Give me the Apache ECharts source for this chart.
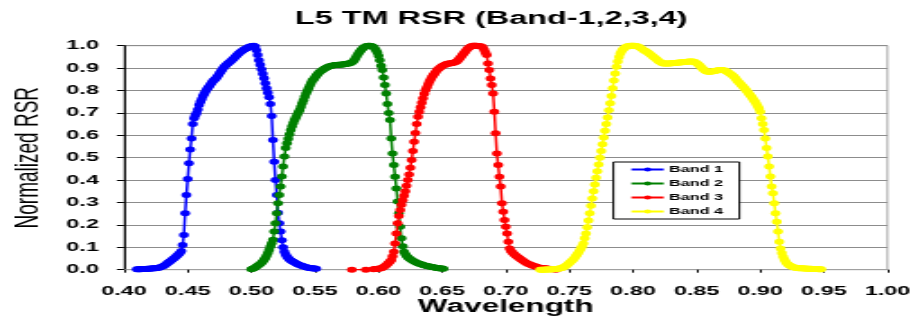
<!DOCTYPE html>
<html>
<head>
<meta charset="utf-8">
<script src="https://cdn.jsdelivr.net/npm/echarts@6/dist/echarts.min.js"></script>
<style>
  html, body { margin: 0; padding: 0; background: #fff; overflow: hidden; }
  #wrap { width: 913px; height: 320px; overflow: hidden; }
  /* the figure is laid out narrow and then widened, like the original exported plot */
  #chart { width: 507px; height: 320px; transform: scaleX(1.8008); transform-origin: 0 0; }
</style>
</head>
<body>
<div id="wrap"><div id="chart"></div></div>
<script>
// Landsat 5 TM relative spectral response, 1 nm steps (wavelength in micrometres)
const bandNames = ['Band 1', 'Band 2', 'Band 3', 'Band 4'];
const bandColors = ['#0000ff', '#008000', '#ff0000', '#ffff00'];

const xTicks = [0.40, 0.45, 0.50, 0.55, 0.60, 0.65, 0.70, 0.75, 0.80, 0.85, 0.90, 0.95, 1.00];
const yTicks = [0.0, 0.1, 0.2, 0.3, 0.4, 0.5, 0.6, 0.7, 0.8, 0.9, 1.0];

const band1StartNm = 410;
const band1 = [
  0.002,0.002,0.002,0.002,0.003,0.003,0.003,0.003,0.004,0.004,
  0.004,0.005,0.005,0.006,0.006,0.007,0.008,0.009,0.010,0.012,
  0.014,0.017,0.020,0.024,0.029,0.033,0.037,0.041,0.045,0.050,
  0.055,0.060,0.065,0.070,0.076,0.083,0.110,0.155,0.252,0.334,
  0.405,0.475,0.537,0.586,0.650,0.676,0.690,0.700,0.715,0.735,
  0.750,0.762,0.775,0.785,0.795,0.805,0.812,0.820,0.828,0.836,
  0.843,0.848,0.853,0.860,0.868,0.877,0.885,0.893,0.900,0.907,
  0.913,0.918,0.923,0.927,0.932,0.937,0.942,0.948,0.954,0.960,
  0.965,0.970,0.974,0.978,0.982,0.985,0.988,0.991,0.994,0.996,
  0.998,0.999,1.000,0.995,0.980,0.958,0.935,0.915,0.895,0.875,
  0.855,0.832,0.810,0.790,0.770,0.740,0.686,0.579,0.482,0.400,
  0.333,0.254,0.207,0.170,0.132,0.100,0.080,0.068,0.058,0.052,
  0.046,0.042,0.038,0.035,0.032,0.029,0.026,0.023,0.021,0.019,
  0.017,0.015,0.013,0.011,0.010,0.009,0.008,0.007,0.006,0.005,
  0.005,0.004
];

const band2StartNm = 500;
const band2 = [
  0.002,0.004,0.007,0.010,0.014,0.018,0.022,0.026,0.031,0.037,
  0.044,0.052,0.062,0.074,0.088,0.104,0.118,0.134,0.170,0.207,
  0.252,0.297,0.334,0.371,0.416,0.461,0.505,0.543,0.565,0.585,
  0.605,0.624,0.640,0.655,0.668,0.680,0.692,0.703,0.713,0.728,
  0.743,0.757,0.772,0.787,0.798,0.810,0.822,0.834,0.845,0.850,
  0.858,0.866,0.873,0.879,0.884,0.888,0.892,0.896,0.899,0.902,
  0.905,0.907,0.909,0.911,0.912,0.913,0.914,0.914,0.915,0.915,
  0.915,0.916,0.916,0.917,0.918,0.919,0.920,0.921,0.923,0.926,
  0.930,0.936,0.945,0.955,0.964,0.972,0.979,0.985,0.990,0.994,
  0.997,0.999,1.000,1.000,0.999,0.998,0.994,0.988,0.980,0.970,
  0.955,0.935,0.910,0.891,0.858,0.824,0.787,0.740,0.700,0.668,
  0.586,0.519,0.467,0.415,0.363,0.304,0.252,0.192,0.140,0.105,
  0.080,0.070,0.062,0.056,0.051,0.047,0.043,0.040,0.037,0.034,
  0.031,0.029,0.027,0.025,0.023,0.021,0.020,0.018,0.017,0.015,
  0.014,0.013,0.012,0.011,0.010,0.009,0.008,0.007,0.006,0.005,
  0.005,0.004
];

// band 3 has two isolated samples before its continuous record
const band3Lead = [[0.579, 0.000], [0.590, 0.000]];
const band3StartNm = 596;
const band3 = [
  0.002,0.003,0.003,0.004,0.004,0.005,0.007,0.009,0.012,0.016,
  0.020,0.025,0.031,0.037,0.043,0.060,0.080,0.117,0.162,0.207,
  0.240,0.266,0.290,0.310,0.330,0.350,0.375,0.400,0.425,0.455,
  0.490,0.530,0.571,0.610,0.650,0.683,0.705,0.725,0.745,0.765,
  0.785,0.802,0.815,0.828,0.840,0.850,0.860,0.868,0.876,0.884,
  0.891,0.896,0.901,0.905,0.909,0.912,0.915,0.917,0.919,0.920,
  0.921,0.922,0.923,0.924,0.926,0.928,0.932,0.938,0.945,0.952,
  0.960,0.966,0.973,0.980,0.986,0.991,0.995,0.998,1.000,1.000,
  1.000,1.000,0.999,0.998,0.997,0.996,0.992,0.982,0.970,0.958,
  0.921,0.891,0.854,0.824,0.787,0.705,0.609,0.519,0.467,0.415,
  0.371,0.297,0.259,0.222,0.192,0.162,0.125,0.095,0.085,0.078,
  0.072,0.067,0.062,0.058,0.054,0.050,0.046,0.042,0.038,0.034,
  0.031,0.028,0.025,0.023,0.021,0.019,0.017,0.015,0.013,0.011,
  0.010,0.009,0.008,0.007,0.006,0.006,0.005,0.004,0.004,0.003,
  0.003,0.002,0.002,0.001,0.001
];

const band4StartNm = 727;
const band4 = [
  0.000,0.000,0.000,0.000,0.001,0.001,0.001,0.001,0.001,0.002,
  0.002,0.002,0.003,0.003,0.004,0.005,0.006,0.008,0.010,0.013,
  0.016,0.020,0.025,0.030,0.035,0.040,0.046,0.052,0.060,0.068,
  0.076,0.085,0.095,0.105,0.117,0.140,0.162,0.190,0.220,0.252,
  0.285,0.318,0.350,0.380,0.410,0.440,0.470,0.500,0.530,0.560,
  0.590,0.620,0.650,0.680,0.712,0.743,0.775,0.810,0.845,0.876,
  0.906,0.930,0.950,0.965,0.975,0.983,0.989,0.993,0.996,0.998,
  0.999,1.000,1.000,1.000,1.000,0.999,0.998,0.996,0.993,0.990,
  0.986,0.982,0.978,0.976,0.972,0.968,0.964,0.960,0.955,0.950,
  0.946,0.942,0.937,0.932,0.928,0.925,0.922,0.921,0.920,0.920,
  0.921,0.921,0.921,0.922,0.922,0.923,0.923,0.924,0.924,0.925,
  0.925,0.926,0.926,0.927,0.927,0.928,0.928,0.929,0.929,0.929,
  0.929,0.928,0.926,0.922,0.918,0.913,0.908,0.902,0.896,0.891,
  0.887,0.885,0.884,0.884,0.884,0.885,0.886,0.887,0.888,0.889,
  0.890,0.891,0.891,0.891,0.890,0.889,0.887,0.884,0.880,0.876,
  0.872,0.868,0.864,0.858,0.851,0.844,0.838,0.832,0.826,0.820,
  0.814,0.808,0.801,0.794,0.787,0.780,0.773,0.765,0.757,0.750,
  0.740,0.730,0.720,0.705,0.676,0.650,0.624,0.586,0.543,0.505,
  0.461,0.416,0.371,0.341,0.297,0.252,0.214,0.170,0.125,0.095,
  0.075,0.058,0.045,0.036,0.028,0.023,0.019,0.016,0.013,0.011,
  0.010,0.009,0.008,0.007,0.007,0.006,0.006,0.005,0.005,0.005,
  0.004,0.004,0.004,0.004,0.003,0.003,0.003,0.003,0.003,0.002,
  0.002,0.002
];

// pair each response value with its wavelength
function spectrum(startNm, values) {
  return values.map((v, i) => [(startNm + i) / 1000, v]);
}

const bandData = [
  spectrum(band1StartNm, band1),
  spectrum(band2StartNm, band2),
  band3Lead.concat(spectrum(band3StartNm, band3)),
  spectrum(band4StartNm, band4)
];

const FONT = '"Liberation Sans", Arial, sans-serif';

const chart = echarts.init(document.getElementById('chart'), null, { renderer: 'canvas' });

chart.setOption({
  animation: false,
  backgroundColor: '#ffffff',
  title: {
    text: 'L5 TM RSR (Band-1,2,3,4)',
    left: 272.8,
    top: 10,
    padding: 0,
    textAlign: 'center',
    textStyle: { fontFamily: FONT, fontSize: 18, fontWeight: 'bold', color: '#000' }
  },
  legend: {
    orient: 'vertical',
    left: 340.6,
    top: 162,
    padding: [3, 9, 3, 9],
    itemGap: 5,
    itemWidth: 18,
    itemHeight: 5,
    backgroundColor: '#ffffff',
    borderColor: '#000000',
    borderWidth: 1,
    data: bandNames,
    textStyle: { fontFamily: FONT, fontSize: 9, fontWeight: 'bold', color: '#000', padding: [0, 0, 0, -2] }
  },
  grid: {
    left: 68.9,
    right: 14.2,
    top: 45.7,
    bottom: 50.3,
    containLabel: false,
    outerBoundsMode: 'none',
    show: true,
    borderColor: '#a6a6a6',
    borderWidth: 1,
    backgroundColor: 'transparent'
  },
  xAxis: {
    type: 'value',
    min: xTicks[0],
    max: xTicks[xTicks.length - 1],
    interval: 0.05,
    name: 'Wavelength',
    nameLocation: 'middle',
    nameGap: 28,
    nameMoveOverlap: false,
    nameTextStyle: { fontFamily: FONT, fontSize: 17.5, fontWeight: 'bold', color: '#000' },
    axisLine: { show: true, onZero: false, lineStyle: { color: '#a0a0a0', width: 1 } },
    axisTick: { show: true, length: 3, lineStyle: { color: '#000', width: 1 } },
    axisLabel: {
      margin: 15,
      fontFamily: FONT, fontSize: 13, fontWeight: 'bold', color: '#000',
      showMinLabel: true, showMaxLabel: true,
      formatter: v => v.toFixed(2)
    },
    splitLine: { show: false }
  },
  yAxis: {
    type: 'value',
    min: yTicks[0],
    max: yTicks[yTicks.length - 1],
    interval: 0.1,
    name: 'Normalized RSR',
    nameLocation: 'middle',
    nameGap: 44,
    nameMoveOverlap: false,
    nameRotate: 90,
    nameTextStyle: { fontFamily: FONT, fontSize: 19, fontWeight: 'normal', color: '#000' },
    axisLine: { show: true, lineStyle: { color: '#000', width: 1 } },
    axisTick: { show: true, length: 4, lineStyle: { color: '#000', width: 1 } },
    axisLabel: {
      margin: 14,
      fontFamily: FONT, fontSize: 13, fontWeight: 'bold', color: '#000',
      formatter: v => v.toFixed(1)
    },
    splitLine: { show: true, lineStyle: { color: '#8c8c8c', width: 1 } }
  },
  series: bandNames.map((name, i) => ({
    name: name,
    type: 'line',
    data: bandData[i],
    showSymbol: true,
    showAllSymbol: true,
    symbol: 'circle',
    symbolSize: [5.5, 6],
    itemStyle: { color: bandColors[i] },
    lineStyle: { color: bandColors[i], width: 1.5 },
    emphasis: { disabled: true },
    z: 2 + i
  }))
});
</script>
</body>
</html>
